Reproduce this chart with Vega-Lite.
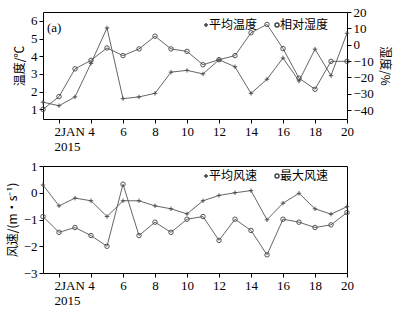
{
  "$schema": "https://vega.github.io/schema/vega-lite/v6.json",
  "padding": {"left": 5, "top": 5, "right": 5, "bottom": 5},
  "background": "white",
  "datasets": {
    "top": [
      {"d":1,"s":"平均温度","v":1.4},{"d":2,"s":"平均温度","v":1.2},{"d":3,"s":"平均温度","v":1.7},{"d":4,"s":"平均温度","v":3.6},{"d":5,"s":"平均温度","v":5.6},
      {"d":6,"s":"平均温度","v":1.6},{"d":7,"s":"平均温度","v":1.7},{"d":8,"s":"平均温度","v":1.9},{"d":9,"s":"平均温度","v":3.1},{"d":10,"s":"平均温度","v":3.2},
      {"d":11,"s":"平均温度","v":3.0},{"d":12,"s":"平均温度","v":3.8},{"d":13,"s":"平均温度","v":3.4},{"d":14,"s":"平均温度","v":1.9},{"d":15,"s":"平均温度","v":2.7},
      {"d":16,"s":"平均温度","v":3.9},{"d":17,"s":"平均温度","v":2.6},{"d":18,"s":"平均温度","v":4.4},{"d":19,"s":"平均温度","v":2.9},{"d":20,"s":"平均温度","v":5.3},
      {"d":1,"s":"相对湿度","v":-39.6},{"d":2,"s":"相对湿度","v":-31.8},{"d":3,"s":"相对湿度","v":-14.8},{"d":4,"s":"相对湿度","v":-9.6},{"d":5,"s":"相对湿度","v":-2.0},
      {"d":6,"s":"相对湿度","v":-6.7},{"d":7,"s":"相对湿度","v":-2.6},{"d":8,"s":"相对湿度","v":5.2},{"d":9,"s":"相对湿度","v":-2.6},{"d":10,"s":"相对湿度","v":-4.1},
      {"d":11,"s":"相对湿度","v":-12.3},{"d":12,"s":"相对湿度","v":-9.2},{"d":13,"s":"相对湿度","v":-6.7},{"d":14,"s":"相对湿度","v":7.3},{"d":15,"s":"相对湿度","v":12.4},
      {"d":16,"s":"相对湿度","v":-2.4},{"d":17,"s":"相对湿度","v":-20.5},{"d":18,"s":"相对湿度","v":-27.3},{"d":19,"s":"相对湿度","v":-10.2},{"d":20,"s":"相对湿度","v":-10.2}
    ],
    "bottom": [
      {"d":1,"s":"平均风速","v":0.29},{"d":2,"s":"平均风速","v":-0.49},{"d":3,"s":"平均风速","v":-0.2},{"d":4,"s":"平均风速","v":-0.3},{"d":5,"s":"平均风速","v":-0.89},
      {"d":6,"s":"平均风速","v":-0.3},{"d":7,"s":"平均风速","v":-0.3},{"d":8,"s":"平均风速","v":-0.49},{"d":9,"s":"平均风速","v":-0.6},{"d":10,"s":"平均风速","v":-0.79},
      {"d":11,"s":"平均风速","v":-0.3},{"d":12,"s":"平均风速","v":-0.1},{"d":13,"s":"平均风速","v":0.0},{"d":14,"s":"平均风速","v":0.08},{"d":15,"s":"平均风速","v":-1.01},
      {"d":16,"s":"平均风速","v":-0.39},{"d":17,"s":"平均风速","v":-0.02},{"d":18,"s":"平均风速","v":-0.6},{"d":19,"s":"平均风速","v":-0.8},{"d":20,"s":"平均风速","v":-0.52},
      {"d":1,"s":"最大风速","v":-0.89},{"d":2,"s":"最大风速","v":-1.48},{"d":3,"s":"最大风速","v":-1.3},{"d":4,"s":"最大风速","v":-1.6},{"d":5,"s":"最大风速","v":-2.0},
      {"d":6,"s":"最大风速","v":0.32},{"d":7,"s":"最大风速","v":-1.6},{"d":8,"s":"最大风速","v":-1.1},{"d":9,"s":"最大风速","v":-1.48},{"d":10,"s":"最大风速","v":-0.99},
      {"d":11,"s":"最大风速","v":-0.89},{"d":12,"s":"最大风速","v":-1.78},{"d":13,"s":"最大风速","v":-0.99},{"d":14,"s":"最大风速","v":-1.41},{"d":15,"s":"最大风速","v":-2.32},
      {"d":16,"s":"最大风速","v":-0.99},{"d":17,"s":"最大风速","v":-1.1},{"d":18,"s":"最大风速","v":-1.3},{"d":19,"s":"最大风速","v":-1.2},{"d":20,"s":"最大风速","v":-0.74}
    ]
  },
  "config": {
    "view": {"stroke": "#000", "strokeWidth": 1},
    "axis": {
      "grid": false, "domain": false, "tickColor": "#000", "tickSize": 4, "tickWidth": 1,
      "labelFont": "Liberation Serif", "labelFontSize": 13, "labelColor": "#000", "labelPadding": 2,
      "titleFont": "Noto Sans CJK SC", "titleFontSize": 12, "titleFontWeight": "normal", "titleColor": "#000"
    },
    "legend": {
      "labelFont": "Noto Sans CJK SC", "labelFontSize": 12, "labelColor": "#000",
      "columnPadding": 13, "labelOffset": -3
    }
  },
  "spacing": 47,
  "bounds": "flush",
  "resolve": {"scale": {"shape": "independent"}, "legend": {"shape": "independent"}},
  "vconcat": [
    {
      "width": 304, "height": 107,
      "data": {"name": "top"},
      "title": {"text": "(a)", "anchor": "start", "orient": "top", "offset": -24, "dx": 4, "dy": 5, "font": "Liberation Serif", "fontSize": 13, "fontWeight": "normal", "color": "#000", "frame": "group"},
      "encoding": {
        "x": {"field": "d", "type": "quantitative", "scale": {"domain": [1, 20], "nice": false},
          "axis": {"title": null, "values": [2,4,6,8,10,12,14,16,18,20],
            "labelExpr": "datum.value == 2 ? ['2JAN', '2015'] : datum.label",
            "labelAlign": {"condition": {"test": "datum.value == 2", "value": "left"}, "value": "center"},
            "labelOffset": {"condition": {"test": "datum.value == 2", "value": -5}, "value": 0}}}
      },
      "layer": [
        {
          "transform": [{"filter": "datum.s == '平均温度'"}],
          "encoding": {
            "y": {"field": "v", "type": "quantitative", "scale": {"domain": [0.45, 6.5], "nice": false, "zero": false},
              "axis": {"title": "温度/℃", "values": [1,2,3,4,5,6], "orient": "left"}}
          },
          "layer": [
            {"mark": {"type": "line", "stroke": "#555", "strokeWidth": 0.9}},
            {"mark": {"type": "point", "filled": false, "stroke": "#444", "strokeWidth": 0.9, "size": 20, "opacity": 1},
             "encoding": {"shape": {"field": "s", "type": "nominal",
               "scale": {"domain": ["平均温度", "相对湿度"], "range": ["M-1,0H1M0,-1V1", "circle"]},
               "legend": {"title": null, "orient": "none", "legendX": 157, "legendY": 7, "direction": "horizontal", "symbolStrokeColor": "#444", "symbolSize": 16}}}}
          ]
        },
        {
          "transform": [{"filter": "datum.s == '相对湿度'"}],
          "encoding": {
            "y": {"field": "v", "type": "quantitative", "scale": {"domain": [-45.5, 20], "nice": false, "zero": false},
              "axis": {"title": "湿度/%", "values": [-40,-30,-20,-10,0,10,20], "orient": "right"}}
          },
          "layer": [
            {"mark": {"type": "line", "stroke": "#555", "strokeWidth": 0.9}},
            {"mark": {"type": "point", "filled": false, "stroke": "#444", "strokeWidth": 0.9, "size": 20, "opacity": 1},
             "encoding": {"shape": {"field": "s", "type": "nominal",
               "scale": {"domain": ["平均温度", "相对湿度"], "range": ["M-1,0H1M0,-1V1", "circle"]},
               "legend": {"title": null, "orient": "none", "legendX": 157, "legendY": 7, "direction": "horizontal", "symbolStrokeColor": "#444", "symbolSize": 16}}}}
          ]
        }
      ],
      "resolve": {"scale": {"y": "independent"}}
    },
    {
      "width": 304, "height": 107,
      "data": {"name": "bottom"},
      "encoding": {
        "x": {"field": "d", "type": "quantitative", "scale": {"domain": [1, 20], "nice": false},
          "axis": {"title": null, "values": [2,4,6,8,10,12,14,16,18,20],
            "labelExpr": "datum.value == 2 ? ['2JAN', '2015'] : datum.label",
            "labelAlign": {"condition": {"test": "datum.value == 2", "value": "left"}, "value": "center"},
            "labelOffset": {"condition": {"test": "datum.value == 2", "value": -5}, "value": 0}}},
        "y": {"field": "v", "type": "quantitative", "scale": {"domain": [-3, 1], "nice": false, "zero": false},
          "axis": {"title": "风速/(m·s⁻¹)", "values": [-3,-2,-1,0,1]}},
        "detail": {"field": "s", "type": "nominal"}
      },
      "layer": [
        {"mark": {"type": "line", "stroke": "#555", "strokeWidth": 0.9}},
        {"mark": {"type": "point", "filled": false, "stroke": "#444", "strokeWidth": 0.9, "size": 20, "opacity": 1},
         "encoding": {"shape": {"field": "s", "type": "nominal",
           "scale": {"domain": ["平均风速", "最大风速"], "range": ["M-1,0H1M0,-1V1", "circle"]},
           "legend": {"title": null, "orient": "none", "legendX": 157, "legendY": 4, "direction": "horizontal", "symbolStrokeColor": "#444", "symbolSize": 16}}}}
      ]
    }
  ]
}
